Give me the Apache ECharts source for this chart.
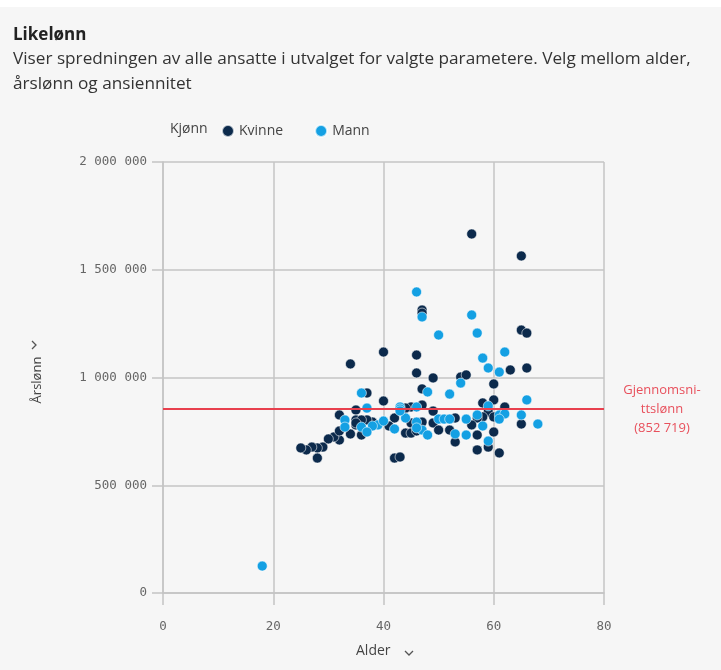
<!DOCTYPE html>
<html>
<head>
<meta charset="utf-8">
<script src="https://cdn.jsdelivr.net/npm/echarts@6/dist/echarts.min.js"></script>
<style>
  html, body { margin: 0; padding: 0; background: #ffffff; }
  #chart { width: 721px; height: 670px; }
</style>
</head>
<body>
<div id="chart"></div>
<script>
// verdier lest av bildet: [alder, årslønn]
var kvinne = [
  [56,1666000],[65,1564000],[47,1313000],[47,1299000],[65,1220000],[66,1206000],
  [40,1118000],[46,1104000],[34,1063000],[63,1035000],[66,1044000],[46,1021000],
  [49,998000],[54,1002000],[55,1012000],[60,970000],[47,947000],[37,928000],
  [40,891000],[60,896000],[58,882000],[62,863000],[47,872000],[45,863000],
  [44,858000],[49,844000],[35,849000],[32,826000],[59,840000],[58,817000],
  [57,812000],[60,817000],[65,784000],[56,780000],[53,812000],[45,789000],
  [47,793000],[49,789000],[42,812000],[41,775000],[35,803000],[35,780000],
  [38,793000],[37,803000],[60,747000],[57,733000],[44,742000],[45,742000],
  [46,752000],[50,756000],[52,756000],[53,701000],[32,710000],[34,738000],
  [36,733000],[31,724000],[30,715000],[29,677000],[28,673000],[27,677000],
  [26,664000],[25,673000],[28,626000],[42,626000],[43,631000],[57,664000],
  [59,677000],[61,650000],[36,803000],[32,752000],[35,789000]
];
var mann = [
  [46,1397000],[47,1281000],[56,1290000],[57,1206000],[50,1197000],[62,1118000],
  [58,1090000],[59,1044000],[61,1025000],[54,974000],[52,923000],[48,933000],
  [36,928000],[66,896000],[59,868000],[37,858000],[46,863000],[43,863000],
  [43,854000],[33,803000],[33,770000],[36,770000],[39,780000],[40,798000],
  [42,761000],[44,812000],[46,793000],[50,807000],[51,807000],[52,807000],
  [55,807000],[47,756000],[48,733000],[53,738000],[55,733000],[57,826000],
  [61,826000],[62,831000],[61,807000],[58,775000],[65,826000],[68,784000],
  [59,705000],[38,775000],[37,747000],[18,125000],[46,766000],[43,845000]
];
var snittlonn = 852719;
var xTicks = [0, 20, 40, 60, 80];
var yTicks = [0, 500000, 1000000, 1500000, 2000000];

function mellomrom(v) {
  return String(Math.round(v)).replace(/\B(?=(\d{3})+(?!\d))/g, ' ');
}

var chart = echarts.init(document.getElementById('chart'));

var gridCol = '#c4c4c4';
var monoFont = '"DejaVu Sans Mono", monospace';
var sansFont = '"Open Sans", "Noto Sans", sans-serif';

var option = {
  backgroundColor: '#f6f6f6',
  animation: false,
  title: {
    left: 8,
    top: 22,
    text: 'Likelønn',
    textStyle: { fontFamily: sansFont, fontSize: 17, fontWeight: 'bold', color: '#222' },
    subtext: 'Viser spredningen av alle ansatte i utvalget for valgte parametere. Velg mellom alder,\nårslønn og ansiennitet',
    subtextStyle: { fontFamily: sansFont, fontSize: 17.2, color: '#333', lineHeight: 25 },
    itemGap: 3
  },
  legend: {
    left: 216,
    top: 119,
    itemWidth: 12,
    itemHeight: 12,
    itemGap: 31,
    icon: 'circle',
    textStyle: { fontFamily: sansFont, fontSize: 14, color: '#444' },
    data: ['Kvinne', 'Mann']
  },
  grid: { left: 163, right: 117, top: 162, bottom: 77 },
  xAxis: {
    type: 'value',
    min: xTicks[0],
    max: xTicks[xTicks.length - 1],
    interval: 20,
    axisLine: { show: true, lineStyle: { color: gridCol, width: 1.5 } },
    axisTick: { show: true, length: 12, lineStyle: { color: gridCol, width: 1.5 } },
    axisLabel: { margin: 27, fontFamily: monoFont, fontSize: 12.5, color: '#666' },
    splitLine: { show: true, lineStyle: { color: gridCol, width: 1.5 } }
  },
  yAxis: {
    type: 'value',
    min: yTicks[0],
    max: yTicks[yTicks.length - 1],
    interval: 500000,
    axisLine: { show: true, lineStyle: { color: gridCol, width: 1.5 } },
    axisTick: { show: true, length: 11, lineStyle: { color: gridCol, width: 1.5 } },
    axisLabel: {
      margin: 16, fontFamily: monoFont, fontSize: 12.5, color: '#666',
      formatter: function (v) { return mellomrom(v); }
    },
    splitLine: { show: true, lineStyle: { color: gridCol, width: 1.5 } }
  },
  graphic: [
    { type: 'rect', left: 0, top: 0, shape: { width: 721, height: 7 }, style: { fill: '#ffffff' } },
    { type: 'text', left: 170, top: 122, style: { text: 'Kjønn', fontFamily: sansFont, fontSize: 14, fill: '#444' } },
    { type: 'text', left: 356, top: 644, style: { text: 'Alder', fontFamily: sansFont, fontSize: 14, fill: '#444' } },
    { type: 'polyline', shape: { points: [[405, 651], [409, 655], [413, 651]] }, style: { stroke: '#555', lineWidth: 1.3, fill: null } },
    { type: 'text', x: 37, y: 380, rotation: Math.PI / 2,
      style: { text: 'Årslønn', fontFamily: sansFont, fontSize: 13, fill: '#444', textAlign: 'center', textVerticalAlign: 'middle' } },
    { type: 'polyline', shape: { points: [[32, 341], [36, 345], [32, 349]] }, style: { stroke: '#555', lineWidth: 1.3, fill: null } }
  ],
  series: [
    {
      name: 'Kvinne',
      type: 'scatter',
      symbolSize: 10,
      itemStyle: { color: '#0c2a4c', borderColor: 'rgba(255,255,255,0.7)', borderWidth: 0.8, opacity: 1 },
      data: kvinne,
      markLine: {
        silent: true,
        symbol: 'none',
        lineStyle: { color: '#e8404e', width: 2, type: 'solid' },
        label: {
          position: 'end',
          distance: 58,
          align: 'center',
          fontFamily: sansFont,
          fontSize: 13,
          lineHeight: 19,
          color: '#e8505c',
          padding: [10, 0, 0, 0],
          formatter: function () { return 'Gjennomsni-\nttslønn\n(' + mellomrom(snittlonn) + ')'; }
        },
        data: [{ yAxis: snittlonn }]
      }
    },
    {
      name: 'Mann',
      type: 'scatter',
      symbolSize: 10,
      itemStyle: { color: '#14a0e3', borderColor: 'rgba(255,255,255,0.7)', borderWidth: 0.8, opacity: 1 },
      data: mann
    }
  ]
};

chart.setOption(option);
</script>
</body>
</html>
